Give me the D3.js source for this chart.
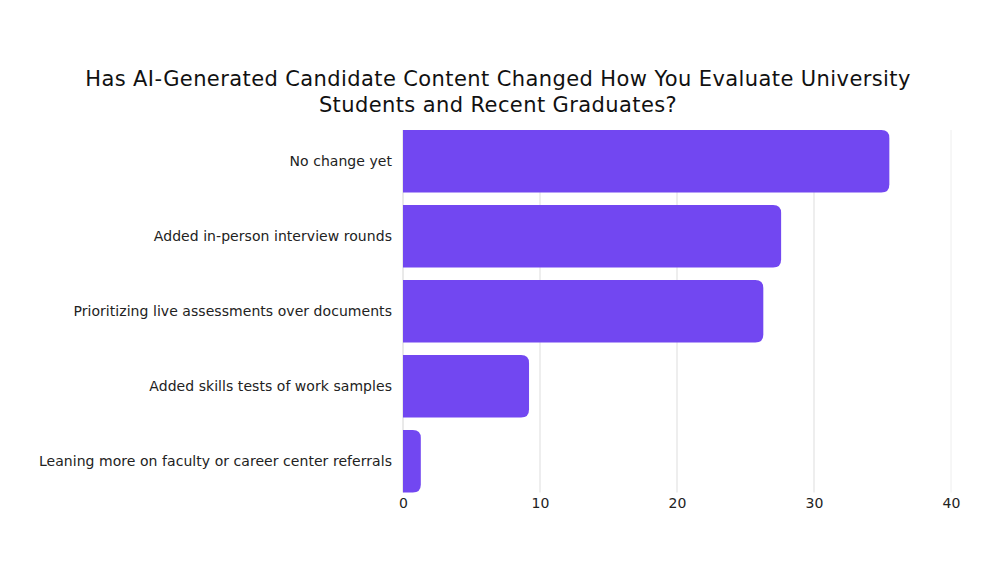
<!DOCTYPE html>
<html>
<head>
<meta charset="utf-8">
<script src="https://cdn.jsdelivr.net/npm/d3@7"></script>
<style>
  body { margin: 0; background: #fff; }
  text { font-family: "DejaVu Sans", sans-serif; fill: #222; }
</style>
</head>
<body>
<script>
(function () {
  var categories,
    values,
    ticks,
    titleLines,
    svg,
    x,
    y,
    width,
    height,
    margin,
    radius;

  categories = [
    'No change yet',
    'Added in-person interview rounds',
    'Prioritizing live assessments over documents',
    'Added skills tests of work samples',
    'Leaning more on faculty or career center referrals'
  ];
  values = [35.5, 27.6, 26.3, 9.2, 1.3];
  ticks = [0, 10, 20, 30, 40];
  titleLines = [
    'Has AI-Generated Candidate Content Changed How You Evaluate University',
    'Students and Recent Graduates?'
  ];

  width = 1000;
  height = 580;
  margin = { top: 130, right: 49, bottom: 87.5, left: 403 };
  radius = 8;

  x = d3.scaleLinear()
    .domain([0, 40])
    .range([margin.left, width - margin.right]);

  y = d3.scaleBand()
    .domain(categories)
    .range([margin.top, height - margin.bottom])
    .paddingInner(0.1667)
    .paddingOuter(0);

  svg = d3.select('body')
    .append('svg')
    .attr('width', width)
    .attr('height', height);

  // title
  svg.append('g')
    .selectAll('text')
    .data(titleLines)
    .enter()
    .append('text')
    .attr('x', 498)
    .attr('y', function (d, i) { return 86 + i * 26; })
    .attr('text-anchor', 'middle')
    .style('font-size', '21px')
    .style('letter-spacing', '0.4px')
    .style('fill', '#111')
    .text(function (d) { return d; });

  // gridlines
  svg.append('g')
    .selectAll('line')
    .data(ticks.slice(1))
    .enter()
    .append('line')
    .attr('x1', function (d) { return x(d); })
    .attr('x2', function (d) { return x(d); })
    .attr('y1', margin.top)
    .attr('y2', height - margin.bottom)
    .attr('stroke', function (d) { return d === 40 ? '#eeeeee' : '#dddddd'; })
    .attr('stroke-width', 1);

  // zero line
  svg.append('line')
    .attr('x1', x(0))
    .attr('x2', x(0))
    .attr('y1', margin.top)
    .attr('y2', height - margin.bottom)
    .attr('stroke', '#d4d4d4');

  // bars, rounded on the right side only
  svg.append('g')
    .selectAll('path')
    .data(values)
    .enter()
    .append('path')
    .attr('fill', '#7247F1')
    .attr('d', function (d, i) {
      var x0 = x(0),
        x1 = x(d),
        y0 = y(categories[i]),
        h = y.bandwidth(),
        r = Math.min(radius, (x1 - x0) / 2);
      return 'M' + x0 + ',' + y0 +
        'H' + (x1 - r) +
        'Q' + x1 + ',' + y0 + ' ' + x1 + ',' + (y0 + r) +
        'V' + (y0 + h - r) +
        'Q' + x1 + ',' + (y0 + h) + ' ' + (x1 - r) + ',' + (y0 + h) +
        'H' + x0 + 'Z';
    });

  // category labels
  svg.append('g')
    .selectAll('text')
    .data(categories)
    .enter()
    .append('text')
    .attr('x', x(0) - 11)
    .attr('y', function (d) { return y(d) + y.bandwidth() / 2; })
    .attr('dy', '0.35em')
    .attr('text-anchor', 'end')
    .style('font-size', '14px')
    .style('letter-spacing', '0.05px')
    .text(function (d) { return d; });

  // x axis
  var axis = d3.axisBottom(x)
    .tickValues(ticks)
    .tickSize(0)
    .tickPadding(6);

  var g = svg.append('g')
    .attr('transform', 'translate(0,' + (height - margin.bottom) + ')')
    .call(axis);
  g.select('.domain').remove();
  g.selectAll('text')
    .style('font-size', '14px')
    .style('font-family', '"DejaVu Sans", sans-serif')
    .style('fill', '#222');
}());
</script>
</body>
</html>
